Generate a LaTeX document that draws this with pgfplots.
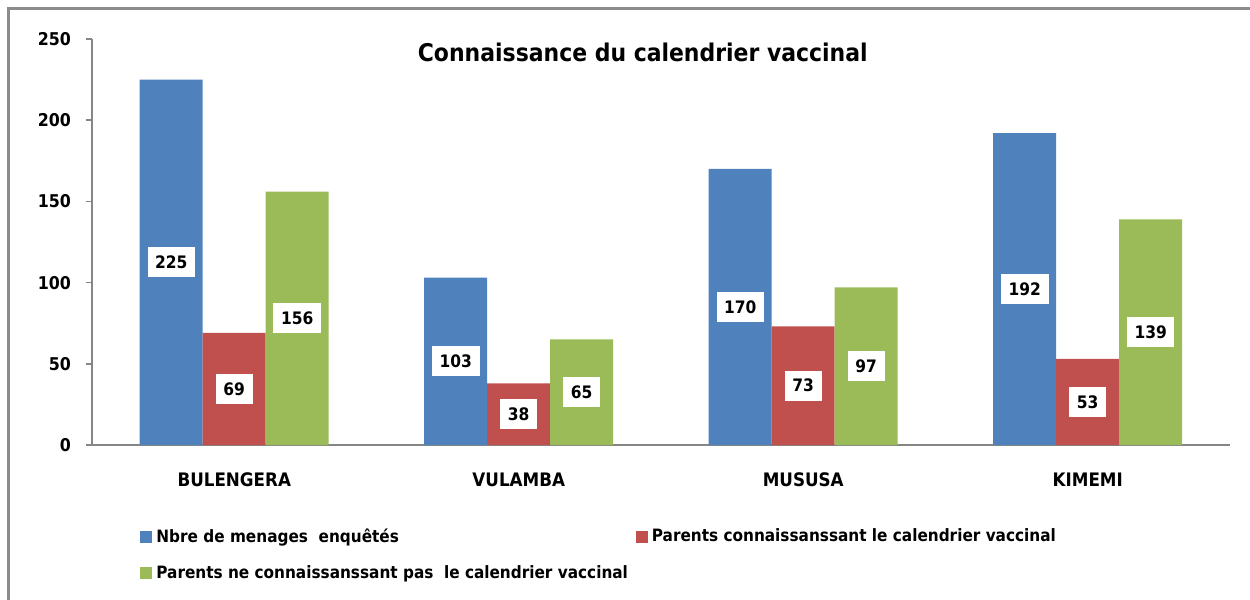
\documentclass[border=0pt]{standalone}
\usepackage{fontspec}
\setmainfont{DejaVu Sans Condensed}[BoldFont={DejaVu Sans Condensed Bold}]
\usepackage{pgfplots}
\usepackage{pgfplotstable}
\pgfplotsset{compat=1.18}
\definecolor{cblue}{HTML}{4F81BD}
\definecolor{cred}{HTML}{C0504D}
\definecolor{cgreen}{HTML}{9BBB59}
\definecolor{caxis}{HTML}{868686}
\definecolor{cframe}{HTML}{8C8C8C}
\pgfplotstableread{
x a b c
0 225 69 156
1 103 38 65
2 170 73 97
3 192 53 139
}\data
\begin{document}
\begin{tikzpicture}
\useasboundingbox (-46pt,-77.5pt) rectangle (579pt,222.5pt);
\begin{axis}[
  scale only axis, width=569pt, height=203pt,
  xmin=-0.5, xmax=3.5, ymin=0, ymax=250,
  axis x line*=bottom, axis y line*=left,
  axis line style={caxis, line width=0.8pt},
  every tick/.style={caxis, line width=0.8pt},
  tick align=outside,
  major tick length=3pt,
  ytick={0,50,100,150,200,250},
  yticklabel style={font=\bfseries\fontsize{8.8}{10}\selectfont, xshift=-4pt},
  /pgf/number format/assume math mode=true,
  xtick={0,1,2,3},
  xticklabels={BULENGERA,VULAMBA,MUSUSA,KIMEMI},
  xtick style={draw=none},
  xticklabel style={font=\bfseries\fontsize{9.3}{10}\selectfont, yshift=-7.5pt},
  extra x ticks={-0.5,0.5,1.5,2.5,3.5},
  extra x tick labels={},
  extra x tick style={xtick style={caxis, line width=0.8pt}},
  legend columns=2,
  legend cell align=left,
  legend style={at={(axis description cs:0.0422,-0.195)}, anchor=north west, draw=none, fill=none,
    font=\bfseries\fontsize{8.5}{10}\selectfont, inner sep=0pt,
    /tikz/every even column/.append style={column sep=2pt},
    row sep=6pt},
  legend image code/.code={\fill[#1] (0pt,-3pt) rectangle (6pt,3pt);},
  every node near coord/.append style={anchor=center, fill=white, text=black,
    font=\bfseries\fontsize{8.6}{10}\selectfont, inner xsep=3.8pt, minimum height=15pt},
]
\addplot[ybar, bar width=31.5pt, bar shift=-31.5pt, fill=cblue, draw=none] table[x=x,y=a] {\data};
\addlegendentry{Nbre de menages\ \ enquêtés}
\addplot[ybar, bar width=31.5pt, bar shift=0pt, fill=cred, draw=none] table[x=x,y=b] {\data};
\addlegendentry{Parents connaissanssant le calendrier vaccinal}
\addplot[ybar, bar width=31.5pt, bar shift=31.5pt, fill=cgreen, draw=none] table[x=x,y=c] {\data};
\addlegendentry{Parents ne connaissanssant pas\ \ le calendrier vaccinal}
\addplot[draw=none, mark=none, nodes near coords, point meta=explicit, forget plot]
  table[x expr=\thisrow{x}-0.2214, y expr=\thisrow{a}/2, meta=a] {\data};
\addplot[draw=none, mark=none, nodes near coords, point meta=explicit, forget plot]
  table[x expr=\thisrow{x}, y expr=\thisrow{b}/2, meta=b] {\data};
\addplot[draw=none, mark=none, nodes near coords, point meta=explicit, forget plot]
  table[x expr=\thisrow{x}+0.2214, y expr=\thisrow{c}/2, meta=c] {\data};
\node[font=\bfseries\fontsize{12.2}{14}\selectfont] at (axis description cs:0.484,0.968) {Connaissance du calendrier vaccinal};
\end{axis}
\draw[cframe, line width=1.5pt] (-41.5pt,-90pt) -- (-41.5pt,218pt) -- (600pt,218pt);
\end{tikzpicture}
\end{document}
